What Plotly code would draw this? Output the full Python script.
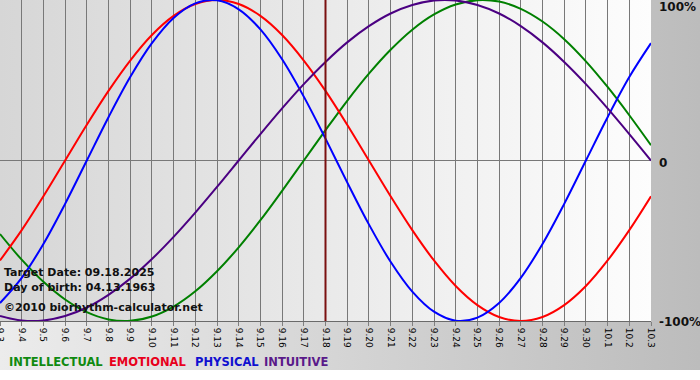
import plotly.graph_objects as go

# ---- data ----
dates = ["9.3", "9.4", "9.5", "9.6", "9.7", "9.8", "9.9", "9.10", "9.11", "9.12",
         "9.13", "9.14", "9.15", "9.16", "9.17", "9.18", "9.19", "9.20", "9.21", "9.22",
         "9.23", "9.24", "9.25", "9.26", "9.27", "9.28", "9.29", "9.30", "10.1", "10.2", "10.3"]

intellectual = [-0.458, -0.618, -0.756, -0.866, -0.945, -0.990, -0.999, -0.972, -0.910, -0.815,
                -0.690, -0.541, -0.372, -0.189, 0.000, 0.189, 0.372, 0.541, 0.690, 0.815,
                0.910, 0.972, 0.999, 0.990, 0.945, 0.866, 0.756, 0.618, 0.458, 0.282, 0.095]
emotional = [-0.623, -0.434, -0.223, 0.000, 0.223, 0.434, 0.623, 0.782, 0.901, 0.975,
             1.000, 0.975, 0.901, 0.782, 0.623, 0.434, 0.223, 0.000, -0.223, -0.434,
             -0.623, -0.782, -0.901, -0.975, -1.000, -0.975, -0.901, -0.782, -0.623, -0.434, -0.223]
physical = [-0.888, -0.731, -0.520, -0.270, 0.000, 0.270, 0.520, 0.731, 0.888, 0.979,
            0.998, 0.942, 0.817, 0.631, 0.398, 0.136, -0.136, -0.398, -0.631, -0.817,
            -0.942, -0.998, -0.979, -0.888, -0.731, -0.520, -0.270, 0.000, 0.270, 0.520, 0.731]
intuitive = [-0.969, -0.997, -0.997, -0.969, -0.916, -0.837, -0.736, -0.614, -0.476, -0.325,
             -0.165, 0.000, 0.165, 0.325, 0.476, 0.614, 0.736, 0.837, 0.916, 0.969,
             0.997, 0.997, 0.969, 0.916, 0.837, 0.736, 0.614, 0.476, 0.325, 0.165, 0.000]

target_label = "9.18"
y_tick_vals = [1, 0, -1]
y_tick_text = ["100%", "0", "-100%"]
info_lines = ["Target Date: 09.18.2025", "Day of birth: 04.13.1963", "\u00a92010 biorhythm-calculator.net"]
legend_names = ["INTELLECTUAL", "EMOTIONAL", "PHYSICAL", "INTUITIVE"]

# ---- styles ----
W, H = 700, 380
PLOT_R, PLOT_B = 651, 321      # plot area right / bottom edge in pixels
colors = {"INTELLECTUAL": "#008000", "EMOTIONAL": "#ff0000",
          "PHYSICAL": "#0000ff", "INTUITIVE": "#4b0082"}
legend_colors = {"INTELLECTUAL": "#108a10", "EMOTIONAL": "#e8001c",
                 "PHYSICAL": "#1010d0", "INTUITIVE": "#5a1a8a"}
FONT = "DejaVu Sans"

fig = go.Figure()

# background subplot (pixel coordinates) for gradients
fig.add_trace(go.Scatter(
    x=[0, W, W, 0, 0], y=[0, 0, 370, 370, 0], mode="lines", line=dict(width=0),
    fill="toself", fillgradient=dict(type="horizontal",
                                     colorscale=[[0, "#ececec"], [1, "#bcbcbc"]]),
    hoverinfo="skip", xaxis="x", yaxis="y", showlegend=False))
fig.add_trace(go.Scatter(
    x=[0, PLOT_R, PLOT_R, 0, 0], y=[0, 0, PLOT_B, PLOT_B, 0], mode="lines", line=dict(width=0),
    fill="toself", fillgradient=dict(type="horizontal",
                                     colorscale=[[0, "#d6d6d6"], [1, "#fdfdfd"]]),
    hoverinfo="skip", xaxis="x", yaxis="y", showlegend=False))

series = [("INTELLECTUAL", intellectual), ("EMOTIONAL", emotional),
          ("PHYSICAL", physical), ("INTUITIVE", intuitive)]
for name, vals in series:
    fig.add_trace(go.Scatter(
        x=dates, y=vals, mode="lines", name=name,
        line=dict(color=colors[name], width=2, shape="spline", smoothing=1.0),
        xaxis="x2", yaxis="y2", showlegend=False))

ti = dates.index(target_label)
fig.add_shape(type="line", xref="x2", yref="y2 domain", x0=ti, x1=ti, y0=0, y1=1,
              line=dict(color="#7a1010", width=2))

annotations = []
for val, txt in zip(y_tick_vals, y_tick_text):
    py = {1: 7, 0: 163, -1: 322}[val]
    annotations.append(dict(xref="paper", yref="paper", x=657 / W, y=1 - py / H,
                            xanchor="left", yanchor="middle", text=txt, showarrow=False,
                            font=dict(family=FONT, size=12, color="#111111", weight="bold")))
for i, txt in enumerate(info_lines):
    py = [272, 287, 307][i]
    annotations.append(dict(xref="paper", yref="paper", x=2 / W, y=1 - py / H,
                            xanchor="left", yanchor="middle", text=txt, showarrow=False,
                            font=dict(family=FONT, size=11, color="#111111", weight="bold")))
legend_x = [7, 107, 193, 262]
for i, name in enumerate(legend_names):
    annotations.append(dict(xref="paper", yref="paper", x=legend_x[i] / W, y=1 - 362 / H,
                            xanchor="left", yanchor="middle", text=name, showarrow=False,
                            font=dict(family=FONT, size=11.5, color=legend_colors[name],
                                      weight="bold")))

fig.update_layout(
    width=W, height=H, margin=dict(l=0, r=0, t=0, b=0, autoexpand=False),
    paper_bgcolor="#ffffff", plot_bgcolor="rgba(0,0,0,0)",
    showlegend=False, annotations=annotations,
    xaxis=dict(domain=[0, 1], range=[0, W], visible=False, fixedrange=True,
               automargin=False),
    yaxis=dict(domain=[0, 1], range=[H, 0], visible=False, fixedrange=True,
               automargin=False),
    xaxis2=dict(domain=[0, PLOT_R / W], type="category", anchor="y2", automargin=False,
                range=[0, len(dates) - 1], tickmode="array", tickvals=dates,
                tickangle=90, ticks="outside", ticklen=4, tickcolor="#808080",
                tickfont=dict(family=FONT, size=9, color="#000000"),
                showgrid=True, gridcolor="#787878", gridwidth=1,
                showline=True, linecolor="#6a6a6a", mirror=True, zeroline=False),
    yaxis2=dict(domain=[1 - PLOT_B / H, 1], anchor="x2", range=[-1, 1], automargin=False,
                tickvals=y_tick_vals, showticklabels=False, ticks="",
                showgrid=True, gridcolor="#787878", gridwidth=1, zeroline=False,
                showline=False),
)

fig.write_html("out.html", config={"displayModeBar": False, "staticPlot": True},
               post_script="document.body.style.margin='0';document.body.style.padding='0';")
